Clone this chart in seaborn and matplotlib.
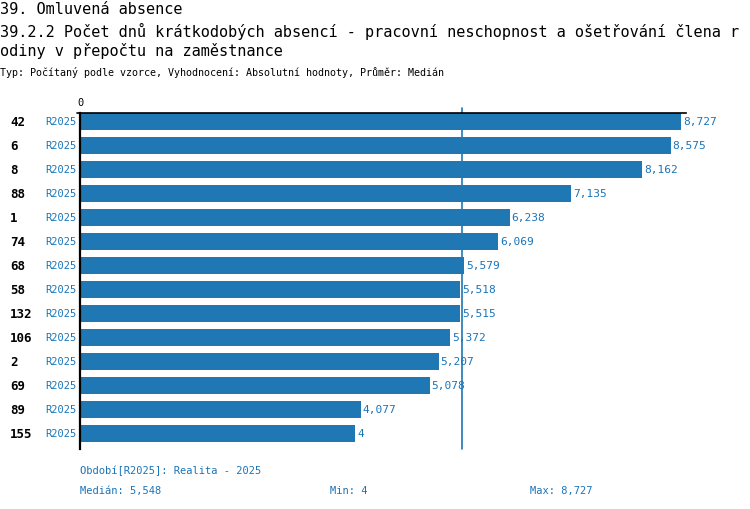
import matplotlib
matplotlib.use("Agg")
import matplotlib.pyplot as plt
import matplotlib.transforms as mtransforms
import seaborn as sns
import pandas as pd

# data
ids = ["42", "6", "8", "88", "1", "74", "68", "58", "132", "106", "2", "69", "89", "155"]
periods = ["R2025"] * len(ids)
values = [8.727, 8.575, 8.162, 7.135, 6.238, 6.069, 5.579, 5.518, 5.515, 5.372, 5.207, 5.078, 4.077, 4.0]
median_val = 5.548
min_val = 4
max_val = 8.727

title1 = "39. Omluvená absence"
title2 = "39.2.2 Počet dnů krátkodobých absencí - pracovní neschopnost a ošetřování člena r"
title3 = "odiny v přepočtu na zaměstnance"
subtitle = "Typ: Počítaný podle vzorce, Vyhodnocení: Absolutní hodnoty, Průměr: Medián"
footer_period = "Období[R2025]: Realita - 2025"

BLUE = "#1f77b4"
TXT_BLUE = "#1a74b8"

sns.set_theme(style="white")
plt.rcParams["font.family"] = ["DejaVu Sans Mono"]

W, H = 750, 510


def fmt(v):
    s = f"{v:.3f}".rstrip("0").rstrip(".")
    return s.replace(".", ",")


df = pd.DataFrame({"id": ids, "hodnota": values})

fig = plt.figure(figsize=(W / 100, H / 100), dpi=100)
ax = fig.add_axes([80 / W, (H - 450) / H, 606 / W, 336 / H])

ax.axvline(median_val, ymin=0, ymax=1 + 5 / 336, color=BLUE, lw=1.2, zorder=0, clip_on=False)
sns.barplot(data=df, x="hodnota", y="id", orient="h", color=BLUE, saturation=1,
            width=0.67, linewidth=0, ax=ax, zorder=2)

ax.set_xlim(0, 8.8)
ax.set_ylim(len(ids) - 1 + 0.646, -0.354)
ax.set_xlabel("")
ax.set_ylabel("")
ax.set_xticks([])
ax.set_yticks([])
for side in ["right", "bottom"]:
    ax.spines[side].set_visible(False)
ax.spines["left"].set_color("black")
ax.spines["left"].set_linewidth(1.6)
ax.spines["top"].set_color("black")
ax.spines["top"].set_linewidth(1.2)
ax.set_facecolor("white")
ax.grid(False)

# 0 tick at the top
ax.plot([-3 / 68.9, 0], [-0.354, -0.354], color="black", lw=1.2, clip_on=False)
ax.text(0, -0.354 - 0.25, "0", ha="center", va="bottom", fontsize=7.5, color="black")

trans = mtransforms.blended_transform_factory(fig.transFigure, ax.transData)
for i, (lab, per, v) in enumerate(zip(ids, periods, values)):
    ax.text(10 / W, i, lab, transform=trans, ha="left", va="center",
            fontsize=9, fontweight="bold", color="black")
    ax.text(77 / W, i, per, transform=trans, ha="right", va="center",
            fontsize=7.5, color=TXT_BLUE)
    ax.text(v + 2 / 68.9, i, fmt(v), ha="left", va="center", fontsize=8, color=TXT_BLUE)

# titles
fig.text(0, 1 - 9 / H, title1, ha="left", va="center", fontsize=11, color="black")
fig.text(0, 1 - 31 / H, title2, ha="left", va="center", fontsize=11, color="black")
fig.text(0, 1 - 51 / H, title3, ha="left", va="center", fontsize=11, color="black")
fig.text(0, 1 - 73 / H, subtitle, ha="left", va="center", fontsize=7.2, color="black")

# footer
fig.text(80 / W, 1 - 471 / H, footer_period, ha="left", va="center", fontsize=7.5, color=TXT_BLUE)
fig.text(80 / W, 1 - 491 / H, "Medián: " + fmt(median_val), ha="left", va="center", fontsize=7.5, color=TXT_BLUE)
fig.text(330 / W, 1 - 491 / H, "Min: " + fmt(min_val), ha="left", va="center", fontsize=7.5, color=TXT_BLUE)
fig.text(530 / W, 1 - 491 / H, "Max: " + fmt(max_val), ha="left", va="center", fontsize=7.5, color=TXT_BLUE)

fig.savefig("out.png", dpi=100, facecolor="white")
plt.close(fig)
